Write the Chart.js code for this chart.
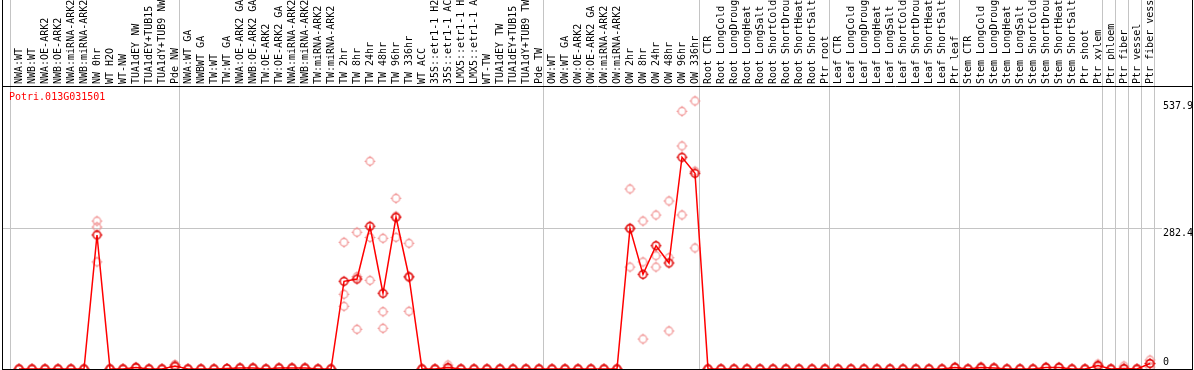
<!DOCTYPE html>
<html>
<head>
<meta charset="utf-8">
<script src="https://cdn.jsdelivr.net/npm/chart.js@4"></script>
<style>
html,body{margin:0;padding:0;background:#fff;}
#wrap{width:1194px;height:370px;position:relative;}
</style>
</head>
<body>
<div id="wrap"><canvas id="c" width="1194" height="370"></canvas></div>
<script>
const categories = [
  "NWA:WT","NWB:WT","NWA:OE-ARK2","NWB:OE-ARK2","NWA:miRNA-ARK2","NWB:miRNA-ARK2",
  "NW 0hr","WT H2O","WT-NW","TUA1dEY NW","TUA1dEY+TUB15 NW","TUA1dY+TUB9 NW","Pde NW",
  "NWA:WT GA","NWBWT GA","TW:WT","TW:WT GA","NWA:OE-ARK2 GA","NWB:OE-ARK2 GA",
  "TW:OE-ARK2","TW:OE-ARK2 GA","NWA:miRNA-ARK2 GA","NWB:miRNA-ARK2 GA","TW:miRNA-ARK2","TW:miRNA-ARK2 GA",
  "TW 2hr","TW 8hr","TW 24hr","TW 48hr","TW 96hr","TW 336hr",
  "WT ACC","35S::etr1-1 H2O","35S::etr1-1 ACC","LMX5::etr1-1 H2O","LMX5::etr1-1 ACC",
  "WT-TW","TUA1dEY TW","TUA1dEY+TUB15 TW","TUA1dY+TUB9 TW","Pde TW",
  "OW:WT","OW:WT GA","OW:OE-ARK2","OW:OE-ARK2 GA","OW:miRNA-ARK2","OW:miRNA-ARK2 GA",
  "OW 2hr","OW 8hr","OW 24hr","OW 48hr","OW 96hr","OW 336hr",
  "Root CTR","Root LongCold","Root LongDrought","Root LongHeat","Root LongSalt",
  "Root ShortCold","Root ShortDrought","Root ShortHeat","Root ShortSalt","Ptr root",
  "Leaf CTR","Leaf LongCold","Leaf LongDrought","Leaf LongHeat","Leaf LongSalt",
  "Leaf ShortCold","Leaf ShortDrought","Leaf ShortHeat","Leaf ShortSalt","Ptr leaf",
  "Stem CTR","Stem LongCold","Stem LongDrought","Stem LongHeat","Stem LongSalt",
  "Stem ShortCold","Stem ShortDrought","Stem ShortHeat","Stem ShortSalt","Ptr shoot",
  "Ptr xylem","Ptr phloem","Ptr fiber","Ptr vessel","Ptr fiber vessel"
];

const means = [
  0,0,0,0,0,0, 269, 0,0, 3, 0,0, 6,
  0,0,0, 1, 2,2, 0, 2,2,2, 0,0,
  176,180.6,286.4,152,304.5,184.7,
  0,0, 3, 0,0, 0,0,0,0,0,
  0,0,0,0,0,0,
  282.4,190,247.5,212.8,425,392.8,
  0,0,0,0,0,0,0,0,0,0,
  0,0,0,0,0,0,0,0,0, 3,
  0, 3, 2, 0,0,0, 3,3, 0,0,
  7, 0, 1, 0, 11
];

const rep1 = [
  0,0,0,0,0,0, 297, 0,0, 4, 0,0, 9,
  0,0,0, 1, 2,2, 0, 2,2,2, 0,0,
  254.3,274.4,416.9,262.3,342.6,252.3,
  0,0, 8, 0,0, 0,0,0,0,0,
  0,0,0,0,0,0,
  361.3,297,309,337.2,517.3,537.9,
  0,0,0,0,0,0,0,0,0,0,
  0,0,0,0,0,0,0,0,0, 4,
  0, 5, 3, 0,0,0, 4,4, 0,0,
  10, 0, 6, 0, 18
];

const rep2 = [
  0,0,0,0,0,0, 285, 0,0, 3, 0,0, 5,
  0,0,0, 1, 2,2, 0, 2,2,2, 0,0,
  150,185.3,264,115,306.6,186,
  0,0, 1, 0,0, 0,0,0,0,0,
  0,0,0,0,0,0,
  281,214.8,227.4,223.4,447.6,397,
  0,0,0,0,0,0,0,0,0,0,
  0,0,0,0,0,0,0,0,0, 3,
  0, 3, 2, 0,0,0, 3,3, 0,0,
  7, 0, 0, 0, 11
];

const rep3 = [
  0,0,0,0,0,0, 215, 0,0, 2, 0,0, 4,
  0,0,0, 1, 2,2, 0, 2,2,2, 0,0,
  125.9,79.7,178,81.7,264.3,115.8,
  0,0, 0, 0,0, 0,0,0,0,0,
  0,0,0,0,0,0,
  204.7,60.2,204.7,76.3,309.1,242.9,
  0,0,0,0,0,0,0,0,0,0,
  0,0,0,0,0,0,0,0,0, 2,
  0, 1, 1, 0,0,0, 2,2, 0,0,
  4, 0, 0, 0, 4
];

const groupBreaks = [0, 13, 41, 53, 63, 73, 84, 85, 86, 87, 88];
const yTickValues = [537.9, 282.4, 0];
const yTickLabels = ["537.9", "282.4", "0"];
const geneName = "Potri.013G031501";

const FONT = "10px 'DejaVu Sans Mono', monospace";

function makeMarker(color, lw) {
  const c = document.createElement('canvas');
  c.width = 13; c.height = 13;
  const g = c.getContext('2d');
  g.strokeStyle = color;
  g.lineWidth = lw;
  g.beginPath();
  g.arc(6.5, 6.5, 3.8, 0, Math.PI * 2);
  g.stroke();
  g.beginPath();
  g.moveTo(6.5, 1.2); g.lineTo(6.5, 2.8);
  g.moveTo(6.5, 10.2); g.lineTo(6.5, 11.8);
  g.moveTo(1.2, 6.5); g.lineTo(2.8, 6.5);
  g.moveTo(10.2, 6.5); g.lineTo(11.8, 6.5);
  g.stroke();
  return c;
}
const meanMarker = makeMarker('#e00000', 1.4);
const repMarker = makeMarker('#f08c8c', 1.2);

const framePlugin = {
  id: 'frame',
  beforeDatasetsDraw(chart) {
    const ctx = chart.ctx;
    const x = chart.scales.x, y = chart.scales.y;
    ctx.save();
    ctx.strokeStyle = '#c4c4c4';
    ctx.lineWidth = 1;
    ctx.beginPath();
    groupBreaks.forEach(b => {
      const px = Math.round(x.getPixelForValue(b - 0.5)) - 2.5;
      ctx.moveTo(px, 0);
      ctx.lineTo(px, 369);
    });
    const gy = Math.round(y.getPixelForValue(282.4)) + 0.5;
    ctx.moveTo(2, gy);
    ctx.lineTo(1162, gy);
    ctx.stroke();
    ctx.restore();
  },
  afterDraw(chart) {
    const ctx = chart.ctx;
    const y = chart.scales.y;
    ctx.save();
    ctx.strokeStyle = '#000';
    ctx.lineWidth = 1;
    ctx.beginPath();
    ctx.moveTo(2.5, 0); ctx.lineTo(2.5, 370);
    ctx.moveTo(1192.5, 0); ctx.lineTo(1192.5, 370);
    ctx.moveTo(2, 86.5); ctx.lineTo(1193, 86.5);
    ctx.moveTo(2, 369.5); ctx.lineTo(1193, 369.5);
    ctx.stroke();
    ctx.font = FONT;
    ctx.fillStyle = '#000';
    ctx.textAlign = 'left';
    ctx.textBaseline = 'middle';
    yTickValues.forEach((v, i) => {
      const py = Math.min(y.getPixelForValue(v) + 5.5, 362.5);
      ctx.fillText(yTickLabels[i], 1163, py);
    });
    ctx.fillStyle = '#ff0000';
    ctx.fillText(geneName, 9, 97);
    ctx.restore();
  }
};

function repDataset(arr) {
  return {
    type: 'line',
    data: arr,
    showLine: false,
    pointStyle: repMarker,
    pointRadius: 5,
    pointHoverRadius: 5,
    borderColor: '#f08c8c',
    backgroundColor: '#f08c8c',
    order: 2
  };
}

new Chart(document.getElementById('c'), {
  type: 'line',
  data: {
    labels: categories,
    datasets: [
      {
        data: means,
        borderColor: '#ff0000',
        borderWidth: 1.5,
        backgroundColor: '#e00000',
        pointStyle: meanMarker,
        pointRadius: 5,
        pointHoverRadius: 5,
        tension: 0,
        fill: false,
        order: 1
      },
      repDataset(rep1),
      repDataset(rep2),
      repDataset(rep3)
    ]
  },
  options: {
    responsive: false,
    animation: false,
    devicePixelRatio: 1,
    layout: { autoPadding: false, padding: { left: 12.5, right: 37.5, top: 0, bottom: 1 } },
    plugins: { legend: { display: false }, tooltip: { enabled: false }, title: { display: false } },
    scales: {
      x: {
        type: 'category',
        position: 'top',
        offset: true,
        grid: { display: false, drawTicks: false },
        border: { display: false },
        ticks: {
          autoSkip: false,
          minRotation: 90,
          maxRotation: 90,
          padding: 2,
          labelOffset: 12.5,
          color: '#000',
          font: { family: "'DejaVu Sans Mono', monospace", size: 10 }
        },
        afterFit(scale) { scale.height = 86; }
      },
      y: {
        display: false,
        min: 0,
        max: 568
      }
    }
  },
  plugins: [framePlugin]
});
</script>
</body>
</html>
